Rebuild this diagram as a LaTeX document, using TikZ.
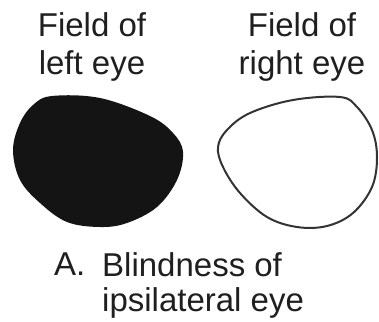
\documentclass[tikz,border=0pt]{standalone}
\usepackage{fontspec}
\setmainfont{Liberation Sans}
\usetikzlibrary{positioning}

\begin{document}
\begin{tikzpicture}[x=1pt,y=-1pt,
  lbl/.style={inner sep=0pt,font={\fontsize{33}{38}\selectfont},text=black!88}]
\path[use as bounding box] (0,0) rectangle (379,321);
% labels over the fields
\node[lbl,align=center,anchor=north] (leftlbl) at (92,12) {Field of\\left eye};
\node[lbl,align=center,anchor=north] (rightlbl) at (302,12) {Field of\\right eye};
% left field, blind
\fill[black!92] plot[smooth cycle,tension=0.6] coordinates {
  (52,96) (100,98) (150,116) (173,133) (183,152) (177,180) (157,207)
  (127,223) (100,227) (67,222) (40,203) (20,180) (13,150) (20,123) (33,105)};
% right field, intact
\draw[black!80,line width=2pt] plot[smooth cycle,tension=0.6] coordinates {
  (340,97) (357,107) (372,130) (377,157) (372,187) (353,213) (327,226)
  (297,227) (267,217) (240,193) (223,167) (218,147) (227,130) (250,113) (293,100)};
% caption
\node[lbl,anchor=base west] (caseA) at (54,275) {A.};
\node[lbl,align=left,anchor=north west,font={\fontsize{33}{35}\selectfont}] (caption) at (102,252) {Blindness of\\ipsilateral eye};
\end{tikzpicture}
\end{document}
